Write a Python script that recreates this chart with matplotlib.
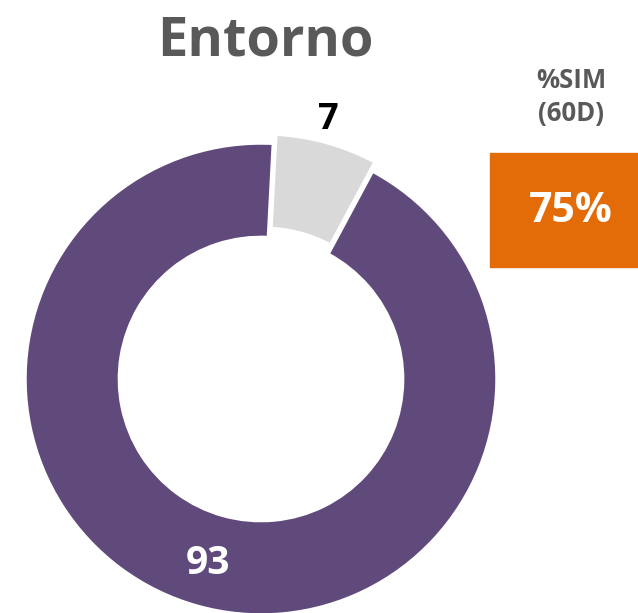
import matplotlib.pyplot as plt
from matplotlib.patches import Rectangle

labels = ['No', 'Sí']
values = [7, 93]
colors = ['#D9D9D9', '#604A7B']
title = 'Entorno'
kpi_label = '%SIM\n(60D)'
kpi_value = '75%'

plt.rcParams['font.family'] = ['Open Sans', 'DejaVu Sans']

W, H = 638, 613
fig = plt.figure(figsize=(W / 100, H / 100), dpi=100)

# donut axes placed in pixel terms: centre (261, 379), radius 236 px
cx, cy, r = 261, 379, 236
lim = 1.12
ax = fig.add_axes([(cx - r * lim) / W, (H - cy - r * lim) / H,
                   2 * r * lim / W, 2 * r * lim / H])
ax.pie(values, colors=colors, startangle=87, counterclock=False,
       explode=[0.04, 0], radius=1,
       wedgeprops=dict(width=0.4, edgecolor='white', linewidth=2.5))
ax.set_xlim(-lim, lim)
ax.set_ylim(-lim, lim)
ax.set_aspect('equal')
ax.axis('off')

ax.text(0.285, 1.097, str(values[0]), ha='center', va='center',
        fontsize=26, fontweight='bold', color='black')
ax.text(-0.225, -0.78, str(values[1]), ha='center', va='center',
        fontsize=28, fontweight='bold', color='white')

fig.text(265 / W, 1 - 42 / H, title, ha='center', va='center',
         fontsize=39, fontweight='bold', color='#595959')

fig.text(571 / W, 1 - 97 / H, kpi_label, ha='center', va='center',
         fontsize=18.5, fontweight='bold', color='#595959', linespacing=1.3)

fig.patches.append(Rectangle((490 / W, 1 - 267 / H), 148 / W, 114 / H,
                             transform=fig.transFigure, color='#E36C09'))
fig.text(571 / W, 1 - 211 / H, kpi_value, ha='center', va='center',
         fontsize=29.5, fontweight='bold', color='white')

fig.savefig('out.png', dpi=100)
